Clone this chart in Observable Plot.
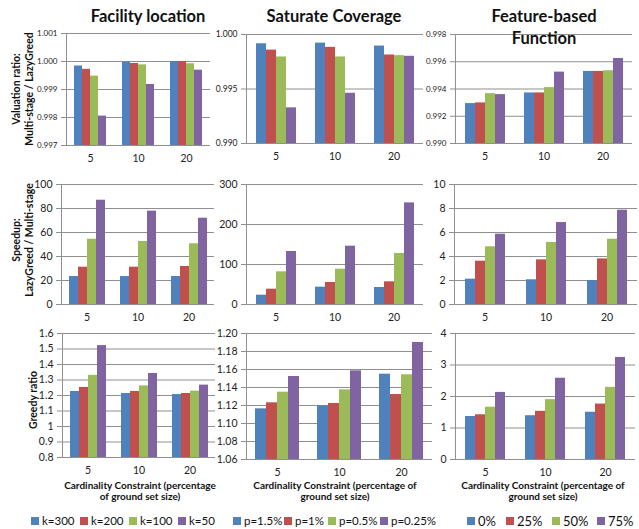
<!DOCTYPE html>
<html><head><meta charset="utf-8">
<script src="https://cdn.jsdelivr.net/npm/d3@7"></script>
<script src="https://cdn.jsdelivr.net/npm/@observablehq/plot@0.6"></script>
<style>
body{margin:0;background:#fff;}
#chart{position:relative;width:639px;height:529px;font-family:Lato,"DejaVu Sans",sans-serif;color:#111;overflow:hidden;background:#fff}
.abs{position:absolute;white-space:nowrap}
.title{font-weight:bold;font-size:16.5px;text-align:center;line-height:22px;transform:translate(-50%,0)}
.ylab{font-weight:bold;font-size:10.5px;text-align:center;line-height:12.5px;transform:translate(-50%,-50%) rotate(-90deg)}
.xlab{font-weight:bold;font-size:10px;text-align:center;line-height:11px;transform:translate(-50%,0)}
.lg{display:flex;align-items:center;font-size:11.5px;line-height:14px;transform:translate(0,-50%)}
.lg .sw{display:inline-block;width:8px;height:8px;margin-right:3px}
</style>
</head><body>
<div id="chart"></div>
<script>
// ---------- data ----------
const groups = ["5", "10", "20"];
const kSeries = ["k=300", "k=200", "k=100", "k=50"];
const pSeries = ["p=1.5%", "p=1%", "p=0.5%", "p=0.25%"];
const fSeries = ["0%", "25%", "50%", "75%"];
const colors = ["#4F81BD", "#C0504D", "#9BBB59", "#8064A2"];

// rows = series, columns = groups (5, 10, 20)
const facilityValuation = [[0.99984, 0.99998, 1.00000],[0.99972, 0.99993, 1.00000],[0.99948, 0.99988, 0.99992],[0.99805, 0.99918, 0.99969]];
const saturateValuation = [[0.99915, 0.99921, 0.99894],[0.99857, 0.99882, 0.99812],[0.99794, 0.99794, 0.99806],[0.99327, 0.99461, 0.99800]];
const featureValuation  = [[0.99293, 0.99371, 0.99529],[0.99298, 0.99371, 0.99529],[0.99366, 0.99410, 0.99534],[0.99359, 0.99524, 0.99624]];
const facilitySpeedup = [[23.3, 23.3, 23.3],[31.1, 31.1, 31.7],[54.4, 52.5, 50.6],[86.9, 77.8, 71.9]];
const saturateSpeedup = [[23.3, 43.3, 42.5],[38.3, 55.0, 56.7],[81.7, 88.3, 127.5],[132.5, 145.8, 254]];
const featureSpeedup  = [[2.11, 2.06, 2.00],[3.61, 3.72, 3.80],[4.81, 5.17, 5.44],[5.86, 6.83, 7.86]];
const facilityGreedy = [[1.226, 1.213, 1.206],[1.252, 1.226, 1.213],[1.330, 1.262, 1.228],[1.522, 1.342, 1.267]];
const saturateGreedy = [[1.1163, 1.1196, 1.1548],[1.1230, 1.1222, 1.1322],[1.1348, 1.1374, 1.1541],[1.1522, 1.1585, 1.190]];
const featureGreedy  = [[1.365, 1.39, 1.50],[1.42, 1.53, 1.76],[1.66, 1.90, 2.29],[2.13, 2.58, 3.24]];

const ticksVal1 = [0.997, 0.998, 0.999, 1.000, 1.001];
const ticksVal2 = [0.990, 0.995, 1.000];
const ticksVal3 = [0.990, 0.992, 0.994, 0.996, 0.998];
const ticksSp1 = [0, 20, 40, 60, 80, 100];
const ticksSp2 = [0, 100, 200, 300];
const ticksSp3 = [0, 2, 4, 6, 8, 10];
const ticksGr1 = [0.8, 0.9, 1, 1.1, 1.2, 1.3, 1.4, 1.5, 1.6];
const ticksGr2 = [1.06, 1.08, 1.10, 1.12, 1.14, 1.16, 1.18, 1.20];
const ticksGr3 = [0, 1, 2, 3, 4];

const titles = ["Facility location", "Saturate Coverage", "Feature-based\nFunction"];
const rowLabels = [["Valuation ratio:", "Multi-stage / LazyGreed"], ["Speedup:", "LazyGreed / Multi-stage"], ["Greedy ratio"]];
const xTitles = ["Cardinality Constraint (percentage\nof ground set size)", "Cardinality Constraint (percentage of\nground set size)", "Cardinality Constraint (percentage of\nground set size)"];

// ---------- layout ----------
const panels = [
  {series: kSeries, values: facilityValuation, ticks: ticksVal1, fmt: d3.format(".3f"), frame: [65, 210, 33, 145], fs: 8},
  {series: pSeries, values: saturateValuation, ticks: ticksVal2, fmt: d3.format(".3f"), frame: [245, 424, 34, 143], fs: 8.5},
  {series: fSeries, values: featureValuation, ticks: ticksVal3, fmt: d3.format(".3f"), frame: [454, 632, 34, 143], fs: 8},
  {series: kSeries, values: facilitySpeedup, ticks: ticksSp1, fmt: d => String(d), frame: [60, 214, 184, 304], fs: 10.5},
  {series: pSeries, values: saturateSpeedup, ticks: ticksSp2, fmt: d => String(d), frame: [245, 424, 184, 304], fs: 10.5},
  {series: fSeries, values: featureSpeedup, ticks: ticksSp3, fmt: d => String(d), frame: [453, 637, 184, 304], fs: 10.5},
  {series: kSeries, values: facilityGreedy, ticks: ticksGr1, fmt: d => String(d), frame: [61, 216, 333, 457], fs: 10.5},
  {series: pSeries, values: saturateGreedy, ticks: ticksGr2, fmt: d3.format(".2f"), frame: [246, 432, 333, 459], fs: 10.5},
  {series: fSeries, values: featureGreedy, ticks: ticksGr3, fmt: d => String(d), frame: [454, 635, 333, 459], fs: 10.5}
];

const chart = document.getElementById("chart");
function place(el, x, y) { el.style.left = x + "px"; el.style.top = y + "px"; chart.appendChild(el); return el; }
function div(cls, html) { const e = document.createElement("div"); e.className = "abs " + cls; e.innerHTML = html; return e; }

const ml = 44, mr = 2, mt = 8, mb = 26;
const gridColor = "#8f8f8f";

panels.forEach(p => {
  const data = p.series.flatMap((s, i) => groups.map((g, j) => ({series: s, group: g, value: p.values[i][j]})));
  const [x0, x1, y0, y1] = p.frame;
  const lo = p.ticks[0], hi = p.ticks[p.ticks.length - 1];
  const svg = Plot.plot({
    width: ml + (x1 - x0) + mr,
    height: mt + (y1 - y0) + mb,
    marginLeft: ml, marginRight: mr, marginTop: mt, marginBottom: mb,
    style: {fontFamily: "Lato, sans-serif", background: "transparent", overflow: "visible"},
    fx: {domain: groups, padding: 0, axis: null, label: null},
    x: {domain: p.series, axis: null, paddingInner: 0, paddingOuter: 0.78},
    y: {domain: [lo, hi], axis: null},
    color: {domain: p.series, range: colors},
    marks: [
      Plot.gridY(p.ticks, {stroke: gridColor, strokeOpacity: 1, strokeWidth: 1}),
      Plot.barY(data, {fx: "group", x: "series", y1: lo, y2: "value", fill: "series"}),
      Plot.ruleY([lo], {stroke: gridColor, strokeWidth: 1}),
      Plot.frame({anchor: "left", facetAnchor: "left", stroke: gridColor}),
      Plot.axisY(p.ticks, {tickSize: 5, tickPadding: 4, tickFormat: p.fmt, fontSize: p.fs, stroke: gridColor, fill: "#222", label: null}),
      Plot.axisFx({anchor: "bottom", tickSize: 0, tickPadding: 9, fontSize: 10.5, fill: "#222", label: null})
    ]
  });
  svg.style.position = "absolute";
  svg.style.left = (x0 - ml) + "px";
  svg.style.top = (y0 - mt) + "px";
  chart.appendChild(svg);
});

// titles
const titlePos = [[148, 5], [334, 5], [544, 5]];
titles.forEach((t, i) => place(div("title", t.replace("\n", "<br>")), titlePos[i][0], titlePos[i][1]));

// row labels
const rowPos = [[22, 89], [22, 240], [33, 400]];
rowLabels.forEach((l, i) => place(div("ylab", l.join("<br>")), rowPos[i][0], rowPos[i][1]));

// x titles
const xPos = [[140, 480], [335, 480], [543, 480]];
xTitles.forEach((t, i) => place(div("xlab", t.replace("\n", "<br>")), xPos[i][0], xPos[i][1]));

// legends: swatch x-positions for each item
const legendSeries = [kSeries, pSeries, fSeries];
const legendX = [[31, 80, 129, 178], [233, 284, 328, 380], [467, 506, 552, 597]];
const legendFont = [11.5, 11.5, 13];
legendSeries.forEach((series, k) => {
  series.forEach((s, i) => {
    const el = div("lg", `<span class="sw" style="background:${colors[i]}"></span>${s}`);
    el.style.fontSize = legendFont[k] + "px";
    place(el, legendX[k][i], 521);
  });
});
</script>
</body></html>
